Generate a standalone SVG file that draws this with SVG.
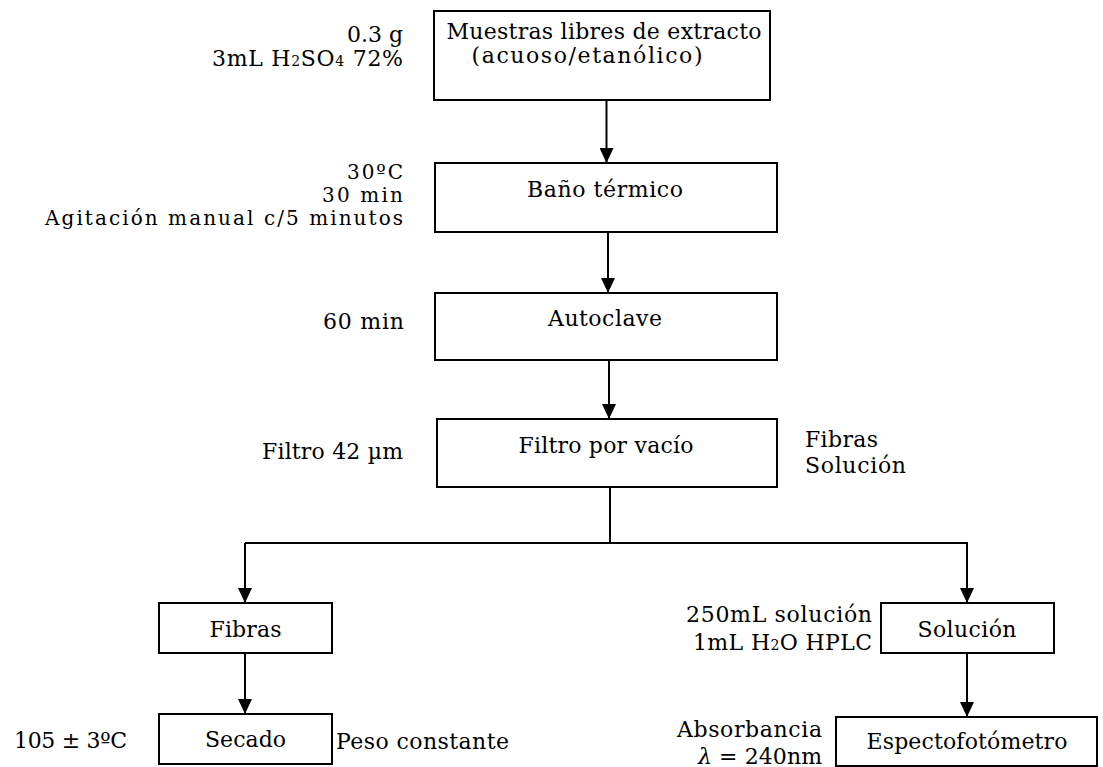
<svg xmlns="http://www.w3.org/2000/svg" width="1103" height="767" viewBox="0 0 1103 767">
<style>
  text { font-family: "DejaVu Serif", "Liberation Serif", serif; font-size: 22px; fill: #000; }
  .c { text-anchor: middle; }
  .r { text-anchor: end; }
  .s { font-size: 20px; }
  .box { fill: #fff; stroke: #000; stroke-width: 2; }
  .ln { fill: none; stroke: #000; stroke-width: 2; }
  .sub { font-size: 14px; }
</style>
<defs>
  <marker id="ah" markerUnits="userSpaceOnUse" markerWidth="15" markerHeight="14" refX="15" refY="7" orient="auto" viewBox="0 0 15 14">
    <path d="M0,0 L15,7 L0,14 z" fill="#000"/>
  </marker>
</defs>

<g id="connectors">
  <line class="ln" x1="606.5" y1="100" x2="606.5" y2="163" marker-end="url(#ah)"/>
  <line class="ln" x1="608" y1="232" x2="608" y2="293" marker-end="url(#ah)"/>
  <line class="ln" x1="609" y1="360" x2="609" y2="419" marker-end="url(#ah)"/>
  <polyline class="ln" points="610,487 610,543"/>
  <polyline class="ln" points="245,543 967,543 967,603" marker-end="url(#ah)"/>
  <line class="ln" x1="245" y1="543" x2="245" y2="603" marker-end="url(#ah)"/>
  <line class="ln" x1="245" y1="653" x2="245" y2="714" marker-end="url(#ah)"/>
  <line class="ln" x1="967" y1="653" x2="967" y2="717" marker-end="url(#ah)"/>
</g>

<g id="muestras">
  <rect class="box" x="434" y="11" width="336" height="89"/>
  <text class="c" x="604" y="39" textLength="315">Muestras libres de extracto</text>
  <text class="c" x="587" y="63" textLength="231">(acuoso/etanólico)</text>
</g>
<g id="label-muestras">
  <text class="r" x="403" y="42" textLength="56">0.3 g</text>
  <text class="r" x="403" y="66" textLength="191">3mL H<tspan class="sub">2</tspan>SO<tspan class="sub">4</tspan> 72%</text>
</g>

<g id="bano">
  <rect class="box" x="435" y="163" width="342" height="69"/>
  <text class="c" x="605" y="197" textLength="156">Baño térmico</text>
</g>
<g id="label-bano">
  <text class="r s" x="403" y="179" textLength="56">30ºC</text>
  <text class="r s" x="403" y="202" textLength="81">30 min</text>
  <text class="r s" x="403" y="225" textLength="358">Agitación manual c/5 minutos</text>
</g>

<g id="autoclave">
  <rect class="box" x="435" y="293" width="342" height="67"/>
  <text class="c" x="605" y="326" textLength="114">Autoclave</text>
</g>
<g id="label-autoclave">
  <text class="r" x="404" y="329" textLength="81">60 min</text>
</g>

<g id="filtro">
  <rect class="box" x="437" y="419" width="340" height="68"/>
  <text class="c" x="606" y="453" textLength="175">Filtro por vacío</text>
</g>
<g id="label-filtro">
  <text class="r" x="403" y="459" textLength="141">Filtro 42 µm</text>
  <text x="805" y="447" textLength="73">Fibras</text>
  <text x="805" y="473" textLength="101">Solución</text>
</g>

<g id="fibras">
  <rect class="box" x="159" y="603" width="173" height="50"/>
  <text class="c" x="245.5" y="637" textLength="72">Fibras</text>
</g>

<g id="secado">
  <rect class="box" x="159" y="714" width="173" height="50"/>
  <text class="c" x="245.5" y="747" textLength="81">Secado</text>
</g>
<g id="label-secado">
  <text class="r" x="127" y="748" textLength="113">105 ± 3ºC</text>
  <text x="336" y="749" textLength="173">Peso constante</text>
</g>

<g id="solucion">
  <rect class="box" x="881" y="603" width="173" height="50"/>
  <text class="c" x="967" y="637" textLength="99">Solución</text>
</g>
<g id="label-solucion">
  <text class="r" x="872" y="622" textLength="186">250mL solución</text>
  <text class="r" x="872" y="650" textLength="179">1mL H<tspan class="sub">2</tspan>O HPLC</text>
</g>

<g id="espectro">
  <rect class="box" x="836" y="717" width="261" height="49"/>
  <text class="c" x="967" y="749" textLength="201">Espectofotómetro</text>
</g>
<g id="label-espectro">
  <text class="r" x="822" y="737" textLength="145">Absorbancia</text>
  <text class="r" x="822" y="764" textLength="124"><tspan font-style="italic">λ</tspan> = 240nm</text>
</g>
</svg>
